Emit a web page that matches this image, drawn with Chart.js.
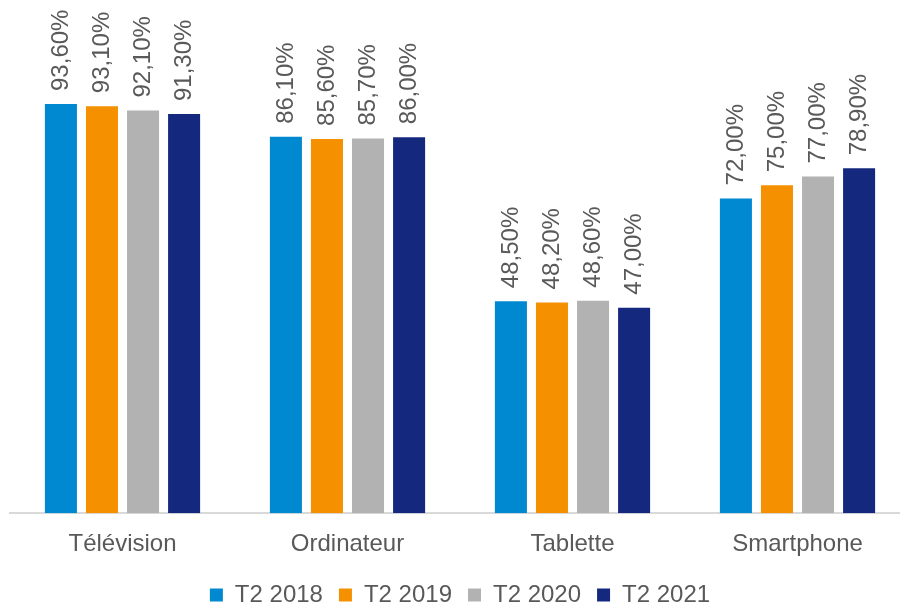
<!DOCTYPE html>
<html>
<head>
<meta charset="utf-8">
<script src="https://cdn.jsdelivr.net/npm/chart.js@4/dist/chart.umd.min.js"></script>
<style>
  html, body { margin: 0; padding: 0; background: #fff; overflow: hidden; }
  #wrap { width: 910px; height: 617px; }
</style>
</head>
<body>
<div id="wrap"><canvas id="barChart"></canvas></div>
<script>
const categories = ["Télévision", "Ordinateur", "Tablette", "Smartphone"];
const seriesNames = ["T2 2018", "T2 2019", "T2 2020", "T2 2021"];
const t2_2018 = [93.6, 86.1, 48.5, 72.0];
const t2_2019 = [93.1, 85.6, 48.2, 75.0];
const t2_2020 = [92.1, 85.7, 48.6, 77.0];
const t2_2021 = [91.3, 86.0, 47.0, 78.9];
const colors = ["#0088d0", "#f59100", "#b2b2b2", "#14287e"];

const textColor = "#595959";
const fontFamily = "'Liberation Sans', Arial, sans-serif";

// vertical value labels above each bar
const valueLabels = {
    id: "valueLabels",
    afterDatasetsDraw(chart) {
        const ctx = chart.ctx;
        ctx.save();
        ctx.fillStyle = textColor;
        ctx.font = "24px " + fontFamily;
        ctx.textAlign = "left";
        ctx.textBaseline = "middle";
        chart.data.datasets.forEach((ds, i) => {
            chart.getDatasetMeta(i).data.forEach((bar, j) => {
                const txt = ds.data[j].toFixed(2).replace(".", ",") + "%";
                ctx.save();
                ctx.translate(bar.x, bar.y - 13);
                ctx.rotate(-Math.PI / 2);
                ctx.fillText(txt, 0, 0);
                ctx.restore();
            });
        });
        ctx.restore();
    }
};

const allSeries = [t2_2018, t2_2019, t2_2020, t2_2021];

new Chart(document.getElementById("barChart"), {
    type: "bar",
    data: {
        labels: categories,
        datasets: allSeries.map((d, i) => ({
            label: seriesNames[i],
            data: d,
            backgroundColor: colors[i],
            categoryPercentage: 0.73,
            barPercentage: 0.78
        }))
    },
    options: {
        responsive: true,
        maintainAspectRatio: false,
        animation: false,
        layout: { padding: { top: 76, left: 10, right: 0, bottom: 0 } },
        plugins: {
            tooltip: { enabled: false },
            legend: {
                position: "bottom",
                labels: {
                    color: textColor,
                    font: { size: 24, family: fontFamily },
                    boxWidth: 13,
                    boxHeight: 13,
                    padding: 16
                }
            }
        },
        scales: {
            x: {
                grid: { display: false },
                border: { color: "#d9d9d9", width: 2 },
                ticks: {
                    color: textColor,
                    font: { size: 24, family: fontFamily },
                    padding: 9
                },
                afterFit(scale) { scale.height -= 1; }
            },
            y: {
                display: false,
                min: 0,
                max: 100
            }
        }
    },
    plugins: [valueLabels]
});
</script>
</body>
</html>
